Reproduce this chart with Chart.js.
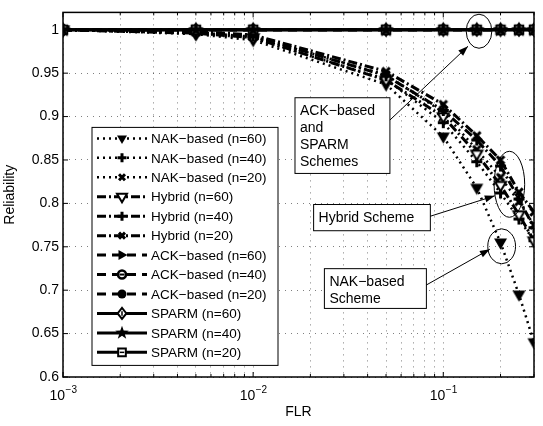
<!DOCTYPE html>
<html>
<head>
<meta charset="utf-8">
<script src="https://cdn.jsdelivr.net/npm/chart.js@4.4.1/dist/chart.umd.min.js"></script>
<style>
  html, body { margin: 0; padding: 0; background: #fff; }
  canvas { display: block; }
</style>
</head>
<body>
<canvas id="myChart" width="543" height="426"></canvas>
<script>
// frame loss rate (x) and reliability values
const flr = [0.001, 0.005, 0.01, 0.05, 0.1, 0.15, 0.2, 0.25, 0.3];

const nakN60 = [1, 0.995, 0.988, 0.937, 0.877, 0.818, 0.755, 0.695, 0.64];
const nakN40 = [1, 0.996, 0.99, 0.943, 0.893, 0.848, 0.812, 0.782, 0.757];
const nakN20 = [1, 0.997, 0.992, 0.948, 0.905, 0.862, 0.83, 0.802, 0.775];
const hybN60 = [1, 0.996, 0.991, 0.942, 0.9, 0.857, 0.821, 0.787, 0.757];
const hybN40 = [1, 0.997, 0.993, 0.947, 0.907, 0.873, 0.843, 0.805, 0.772];
const hybN20 = [1, 0.998, 0.994, 0.952, 0.914, 0.878, 0.85, 0.813, 0.79];
const ackN60 = [1, 1, 1, 1, 1, 1, 1, 1, 1];
const ackN40 = [1, 1, 1, 1, 1, 1, 1, 1, 1];
const ackN20 = [1, 1, 1, 1, 1, 1, 1, 1, 1];
const sparmN60 = [1, 1, 1, 1, 1, 1, 1, 1, 1];
const sparmN40 = [1, 1, 1, 1, 1, 1, 1, 1, 1];
const sparmN20 = [1, 1, 1, 1, 1, 1, 1, 1, 1];

const seriesLabels = [
  "NAK\u2212based (n=60)", "NAK\u2212based (n=40)", "NAK\u2212based (n=20)",
  "Hybrid (n=60)", "Hybrid (n=40)", "Hybrid (n=20)",
  "ACK\u2212based (n=60)", "ACK\u2212based (n=40)", "ACK\u2212based (n=20)",
  "SPARM (n=60)", "SPARM (n=40)", "SPARM (n=20)"
];
const seriesValues = [nakN60, nakN40, nakN20, hybN60, hybN40, hybN20,
  ackN60, ackN40, ackN20, sparmN60, sparmN40, sparmN20];

const yTicks = [0.6, 0.65, 0.7, 0.75, 0.8, 0.85, 0.9, 0.95, 1];
const xDecades = [0.001, 0.01, 0.1];

// grid positions 1..9 per decade, up to the axis limit
const xGrid = [];
xDecades.forEach(d => {
  for (let m = 1; m <= 9; m++) {
    const v = +(d * m).toPrecision(3);
    if (v <= 0.3) xGrid.push(v);
  }
});

const FONT = "'Liberation Sans', Arial, Helvetica, sans-serif";
Chart.defaults.font.family = FONT;
Chart.defaults.font.size = 14;
Chart.defaults.color = "#000";

const dotted = [2, 4], dashDot = [9, 3, 2, 3], dashed = [9, 6];
const styles = [
  { dash: dotted, width: 2.5, marker: "triDown", size: 13, lsize: 10 },
  { dash: dotted, width: 2.5, marker: "plus", size: 11, lsize: 9 },
  { dash: dotted, width: 2.5, marker: "cross", size: 10, lsize: 8 },
  { dash: dashDot, width: 3, marker: "triDownOpen", size: 11, lsize: 10 },
  { dash: dashDot, width: 3, marker: "plus", size: 11, lsize: 9 },
  { dash: dashDot, width: 3, marker: "cross", size: 10, lsize: 8 },
  { dash: dashed, width: 3, marker: "triRight", size: 11, lsize: 10 },
  { dash: dashed, width: 3, marker: "circleMinus", size: 10, lsize: 10 },
  { dash: dashed, width: 3, marker: "circleFill", size: 9, lsize: 9 },
  { dash: [], width: 3, marker: "diamond", size: 12, lsize: 11 },
  { dash: [], width: 3, marker: "star", size: 15, lsize: 13 },
  { dash: [], width: 3, marker: "squareMinus", size: 10, lsize: 9 }
];
// draw order: SPARM (n=40) stars end up on top of the flat line
const drawOrder = [11, 10, 9, 8, 7, 6, 5, 4, 3, 1, -1, 0];

function drawMarker(c, kind, x, y, s) {
  const h = s / 2;
  c.save();
  c.setLineDash([]);
  c.fillStyle = "#000";
  c.strokeStyle = "#000";
  c.beginPath();
  switch (kind) {
    case "triDown":
    case "triDownOpen":
      c.moveTo(x - h, y - s * 0.3);
      c.lineTo(x + h, y - s * 0.3);
      c.lineTo(x, y + s * 0.55);
      c.closePath();
      if (kind === "triDown") c.fill();
      else { c.fillStyle = "#fff"; c.fill(); c.lineWidth = 2; c.stroke(); }
      break;
    case "triRight":
      c.moveTo(x - s * 0.35, y - h);
      c.lineTo(x - s * 0.35, y + h);
      c.lineTo(x + s * 0.55, y);
      c.closePath();
      c.fill();
      break;
    case "plus":
      c.lineWidth = 3;
      c.moveTo(x - h, y); c.lineTo(x + h, y);
      c.moveTo(x, y - h); c.lineTo(x, y + h);
      c.stroke();
      break;
    case "cross":
      c.lineWidth = 3;
      c.moveTo(x - h * 0.75, y - h * 0.75); c.lineTo(x + h * 0.75, y + h * 0.75);
      c.moveTo(x + h * 0.75, y - h * 0.75); c.lineTo(x - h * 0.75, y + h * 0.75);
      c.stroke();
      break;
    case "circleMinus":
      c.arc(x, y, h * 0.8, 0, Math.PI * 2);
      c.fillStyle = "#fff"; c.fill();
      c.lineWidth = 2.5; c.stroke();
      c.beginPath();
      c.lineWidth = 2;
      c.moveTo(x - h * 0.5, y); c.lineTo(x + h * 0.5, y);
      c.stroke();
      break;
    case "circleFill":
      c.arc(x, y, h, 0, Math.PI * 2);
      c.fill();
      break;
    case "diamond":
      c.moveTo(x, y - h); c.lineTo(x + h * 0.8, y);
      c.lineTo(x, y + h); c.lineTo(x - h * 0.8, y);
      c.closePath();
      c.fillStyle = "#fff"; c.fill();
      c.lineWidth = 2; c.stroke();
      c.beginPath();
      c.lineWidth = 1.5;
      c.moveTo(x, y - h * 0.4); c.lineTo(x, y + h * 0.4);
      c.stroke();
      break;
    case "star":
      for (let i = 0; i < 10; i++) {
        const r = i % 2 ? s * 0.22 : s * 0.55;
        const a = -Math.PI / 2 + i * Math.PI / 5;
        const px = x + r * Math.cos(a), py = y + r * Math.sin(a);
        if (i === 0) c.moveTo(px, py); else c.lineTo(px, py);
      }
      c.closePath();
      c.fill();
      break;
    case "squareMinus":
      c.rect(x - h * 0.85, y - h * 0.85, h * 1.7, h * 1.7);
      c.fillStyle = "#fff"; c.fill();
      c.lineWidth = 2; c.stroke();
      c.beginPath();
      c.lineWidth = 1.5;
      c.moveTo(x - h * 0.5, y); c.lineTo(x + h * 0.5, y);
      c.stroke();
      break;
  }
  c.restore();
}

function markerCanvas(kind, s) {
  const cv = document.createElement("canvas");
  const n = Math.ceil(s + 6);
  cv.width = n;
  cv.height = n;
  drawMarker(cv.getContext("2d"), kind, n / 2, n / 2, s);
  return cv;
}

// text boxes, arrows and ellipses, placed in data coordinates
const notes = [
  { lines: ["ACK\u2212based", "and", "SPARM", "Schemes"],
    box: [0.0166, 0.0524, 0.9217, 0.8345],
    arrow: [[0.0524, 0.896], [0.1349, 0.981]],
    ellipse: [0.132, 0.18, 1.0179, 0.9787] },
  { lines: ["Hybrid Scheme"],
    box: [0.0208, 0.0855, 0.7987, 0.7685],
    arrow: [[0.0855, 0.7852], [0.1866, 0.8087]],
    ellipse: [0.185, 0.268, 0.86, 0.784] },
  { lines: ["NAK\u2212based", "Scheme"],
    box: [0.0237, 0.0815, 0.7248, 0.679],
    arrow: [[0.0815, 0.706], [0.1758, 0.7472]],
    ellipse: [0.1714, 0.2399, 0.7707, 0.7304] }
];

const decor = {
  id: "decor",
  afterDraw(chart) {
    const { ctx, chartArea: a, scales: { x, y } } = chart;
    const line = (x1, y1, x2, y2) => {
      ctx.beginPath(); ctx.moveTo(x1, y1); ctx.lineTo(x2, y2); ctx.stroke();
    };
    ctx.save();
    ctx.strokeStyle = "#000";
    ctx.fillStyle = "#000";
    ctx.setLineDash([]);

    // tick marks inside the box
    ctx.lineWidth = 1;
    x.ticks.forEach(t => {
      const px = x.getPixelForValue(t.value);
      const len = xDecades.includes(t.value) ? 5 : 3;
      line(px, a.bottom, px, a.bottom - len);
      line(px, a.top, px, a.top + len);
    });
    y.ticks.forEach(t => {
      const py = y.getPixelForValue(t.value);
      line(a.left, py, a.left + 5, py);
      line(a.right, py, a.right - 5, py);
    });

    // axes box
    ctx.lineWidth = 1.5;
    ctx.strokeRect(a.left, a.top, a.right - a.left, a.bottom - a.top);

    // x tick labels as powers of ten
    ctx.textAlign = "left";
    ctx.textBaseline = "alphabetic";
    xDecades.forEach(v => {
      const px = x.getPixelForValue(v);
      const exp = "\u2212" + Math.round(-Math.log10(v));
      ctx.font = "14px " + FONT;
      const w1 = ctx.measureText("10").width;
      ctx.font = "10px " + FONT;
      const w2 = ctx.measureText(exp).width;
      const x0 = px - (w1 + w2) / 2;
      ctx.font = "14px " + FONT;
      ctx.fillText("10", x0, a.bottom + 23);
      ctx.font = "10px " + FONT;
      ctx.fillText(exp, x0 + w1 + 0.5, a.bottom + 16);
    });

    // legend
    const lx = a.left + 29, ly = a.top + 115, lw = 186, lh = 238;
    ctx.fillStyle = "#fff";
    ctx.fillRect(lx, ly, lw, lh);
    ctx.lineWidth = 1;
    ctx.strokeRect(lx, ly, lw, lh);
    seriesLabels.forEach((lab, i) => {
      const st = styles[i];
      const cy = ly + 11 + i * 19.45;
      ctx.lineWidth = st.width;
      ctx.setLineDash(st.dash);
      ctx.lineDashOffset = 0;
      line(lx + 5, cy, lx + 55, cy);
      ctx.setLineDash([]);
      drawMarker(ctx, st.marker, lx + 30, cy, st.lsize);
      ctx.fillStyle = "#000";
      ctx.font = "13.5px " + FONT;
      ctx.textBaseline = "middle";
      ctx.fillText(lab, lx + 59, cy + 1);
    });

    // annotations
    notes.forEach(n => {
      const bx0 = x.getPixelForValue(n.box[0]), bx1 = x.getPixelForValue(n.box[1]);
      const by0 = y.getPixelForValue(n.box[2]), by1 = y.getPixelForValue(n.box[3]);
      ctx.fillStyle = "#fff";
      ctx.fillRect(bx0, by0, bx1 - bx0, by1 - by0);
      ctx.lineWidth = 1;
      ctx.strokeStyle = "#000";
      ctx.strokeRect(bx0, by0, bx1 - bx0, by1 - by0);
      ctx.fillStyle = "#000";
      ctx.font = "14px " + FONT;
      ctx.textBaseline = "middle";
      n.lines.forEach((t, k) => ctx.fillText(t, bx0 + 5, by0 + 13.5 + k * 17));

      const ex0 = x.getPixelForValue(n.ellipse[0]), ex1 = x.getPixelForValue(n.ellipse[1]);
      const ey0 = y.getPixelForValue(n.ellipse[2]), ey1 = y.getPixelForValue(n.ellipse[3]);
      ctx.beginPath();
      ctx.ellipse((ex0 + ex1) / 2, (ey0 + ey1) / 2, Math.abs(ex1 - ex0) / 2, Math.abs(ey1 - ey0) / 2, 0, 0, Math.PI * 2);
      ctx.stroke();

      const ax0 = x.getPixelForValue(n.arrow[0][0]), ay0 = y.getPixelForValue(n.arrow[0][1]);
      const ax1 = x.getPixelForValue(n.arrow[1][0]), ay1 = y.getPixelForValue(n.arrow[1][1]);
      line(ax0, ay0, ax1, ay1);
      const ang = Math.atan2(ay1 - ay0, ax1 - ax0);
      ctx.beginPath();
      ctx.moveTo(ax1, ay1);
      ctx.lineTo(ax1 - 10 * Math.cos(ang) + 3.5 * Math.sin(ang), ay1 - 10 * Math.sin(ang) - 3.5 * Math.cos(ang));
      ctx.lineTo(ax1 - 10 * Math.cos(ang) - 3.5 * Math.sin(ang), ay1 - 10 * Math.sin(ang) + 3.5 * Math.cos(ang));
      ctx.closePath();
      ctx.fill();
    });
    ctx.restore();
  }
};

const datasets = seriesValues.map((vals, i) => ({
  label: seriesLabels[i],
  data: flr.map((f, j) => ({ x: f, y: vals[j] })),
  borderColor: "#000",
  backgroundColor: "#000",
  borderWidth: styles[i].width,
  borderDash: styles[i].dash,
  pointStyle: markerCanvas(styles[i].marker, styles[i].size),
  pointRadius: 6,
  tension: 0,
  fill: false,
  order: drawOrder[i]
}));

const ctx = document.getElementById("myChart");

const chart = new Chart(ctx, {
  type: "line",
  data: { datasets },
  plugins: [decor],
  options: {
    responsive: false,
    animation: false,
    layout: { padding: { top: 2, right: 3, left: 0, bottom: 0 } },
    scales: {
      x: {
        type: "logarithmic",
        min: 0.001,
        max: 0.3,
        afterBuildTicks: s => { s.ticks = xGrid.map(v => ({ value: v })); },
        afterFit: s => { s.height = 49; },
        ticks: { display: false },
        grid: { color: "rgba(0,0,0,0.5)", lineWidth: 1, drawTicks: false },
        border: { display: false, dash: [1, 5] },
        title: { display: true, text: "FLR", padding: { top: 0, bottom: 5 } }
      },
      y: {
        min: 0.6,
        max: 1.02,
        afterBuildTicks: s => { s.ticks = yTicks.map(v => ({ value: v })); },
        afterFit: s => { s.width = 63; },
        ticks: { padding: 4, callback: v => String(+(+v).toFixed(2)) },
        grid: { color: "rgba(0,0,0,0.5)", lineWidth: 1, drawTicks: false },
        border: { display: false, dash: [1, 5] },
        title: { display: true, text: "Reliability", padding: { top: 2, bottom: 0 } }
      }
    },
    plugins: {
      legend: { display: false },
      tooltip: { enabled: false }
    }
  }
});
</script>
</body>
</html>
